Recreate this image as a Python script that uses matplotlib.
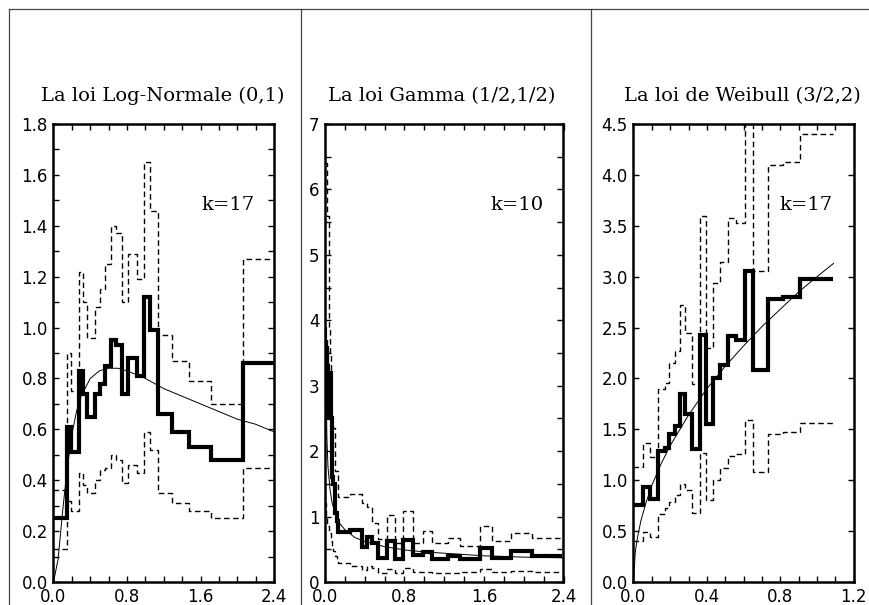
import matplotlib
matplotlib.use("Agg")
import matplotlib.pyplot as plt
from matplotlib.lines import Line2D
from matplotlib.ticker import MultipleLocator, FormatStrFormatter

# ---------------- Panel 1 : Log-Normale (0,1) ----------------
ln_edges = [0.0, 0.15, 0.19, 0.28, 0.325, 0.37, 0.45, 0.51, 0.565, 0.625, 0.675,
            0.75, 0.815, 0.905, 0.99, 1.055, 1.14, 1.29, 1.47, 1.71, 2.06, 2.4]
ln_est = [0.25, 0.61, 0.51, 0.83, 0.74, 0.65, 0.74, 0.78, 0.85, 0.95, 0.93,
          0.74, 0.88, 0.81, 1.12, 0.99, 0.66, 0.59, 0.53, 0.48, 0.86]
ln_up = [0.36, 0.90, 0.75, 1.22, 1.10, 0.96, 1.08, 1.15, 1.25, 1.40, 1.37,
         1.10, 1.29, 1.19, 1.65, 1.46, 0.97, 0.87, 0.79, 0.70, 1.27]
ln_lo = [0.13, 0.32, 0.28, 0.43, 0.38, 0.35, 0.40, 0.44, 0.45, 0.50, 0.48,
         0.39, 0.46, 0.43, 0.59, 0.52, 0.35, 0.31, 0.28, 0.25, 0.45]
ln_cx = [0.0, 0.05, 0.1, 0.15, 0.2, 0.25, 0.3, 0.4, 0.5, 0.6, 0.7, 0.8, 1.0,
         1.2, 1.4, 1.6, 1.8, 2.0, 2.2, 2.4]
ln_cy = [0.0, 0.09, 0.28, 0.45, 0.58, 0.67, 0.73, 0.80, 0.83, 0.84, 0.84, 0.83,
         0.80, 0.76, 0.73, 0.70, 0.67, 0.64, 0.62, 0.59]

# ---------------- Panel 2 : Gamma (1/2,1/2) ----------------
ga_edges = [0.0, 0.004, 0.008, 0.012, 0.016, 0.02, 0.025, 0.03, 0.036, 0.042,
            0.05, 0.06, 0.072, 0.084, 0.1, 0.117, 0.134, 0.25, 0.369, 0.419,
            0.476, 0.537, 0.62, 0.704, 0.788, 0.889, 0.989, 1.073, 1.241,
            1.358, 1.559, 1.677, 1.871, 2.086, 2.381]
ga_est = [3.9, 2.9, 3.7, 3.0, 3.6, 2.8, 3.3, 2.6, 3.0, 2.5, 3.2, 2.5, 1.6, 1.5,
          1.05, 0.93, 0.76, 0.79, 0.54, 0.69, 0.59, 0.36, 0.63, 0.35, 0.64,
          0.41, 0.46, 0.35, 0.40, 0.35, 0.515, 0.37, 0.47, 0.40]
ga_up = [6.4, 6.4, 6.4, 6.4, 5.6, 5.6, 5.6, 5.6, 4.0, 3.85, 3.5, 2.4, 2.4, 2.35,
         1.7, 1.7, 1.3, 1.35, 1.2, 1.15, 0.9, 0.65, 1.03, 0.6, 1.08, 0.6, 0.78,
         0.6, 0.68, 0.55, 0.86, 0.63, 0.75, 0.67]
ga_lo = [1.5, 1.2, 1.0, 1.0, 1.0, 0.95, 0.9, 0.85, 0.8, 0.78, 0.75, 0.62, 0.52,
         0.47, 0.40, 0.35, 0.29, 0.24, 0.18, 0.24, 0.22, 0.13, 0.20, 0.14, 0.21,
         0.15, 0.16, 0.14, 0.14, 0.15, 0.20, 0.15, 0.17, 0.16]
ga_cx = [0.008, 0.02, 0.03, 0.05, 0.07, 0.1, 0.15, 0.2, 0.3, 0.4, 0.6, 0.8, 1.0,
         1.2, 1.4, 1.6, 1.8, 2.0, 2.2, 2.4]
ga_cy = [3.3, 2.16, 1.76, 1.42, 1.22, 1.06, 0.89, 0.80, 0.68, 0.62, 0.54, 0.49,
         0.46, 0.44, 0.42, 0.40, 0.39, 0.38, 0.375, 0.37]

# ---------------- Panel 3 : Weibull (3/2,2) ----------------
wb_edges = [0.0, 0.05, 0.09, 0.135, 0.172, 0.195, 0.226, 0.253, 0.28, 0.317,
            0.362, 0.395, 0.435, 0.471, 0.517, 0.558, 0.607, 0.649, 0.734,
            0.816, 0.909, 1.088]
wb_est = [0.76, 0.93, 0.82, 1.29, 1.32, 1.45, 1.53, 1.85, 1.65, 1.31, 2.43,
          1.55, 2.0, 2.13, 2.42, 2.38, 3.06, 2.08, 2.78, 2.80, 2.98]
wb_up = [1.13, 1.37, 1.23, 1.90, 1.96, 2.15, 2.27, 2.72, 2.45, 1.95, 3.60,
         2.30, 2.94, 3.14, 3.58, 3.53, 4.80, 3.06, 4.10, 4.13, 4.40]
wb_lo = [0.40, 0.49, 0.44, 0.67, 0.73, 0.79, 0.85, 0.96, 0.90, 0.68, 1.27,
         0.81, 1.00, 1.12, 1.24, 1.26, 1.59, 1.08, 1.45, 1.47, 1.56]
wb_cx = [0.0, 0.01, 0.02, 0.04, 0.07, 0.1, 0.15, 0.2, 0.3, 0.4, 0.5, 0.6, 0.7,
         0.8, 0.9, 1.0, 1.09]
wb_cy = [0.0, 0.30, 0.42, 0.60, 0.79, 0.95, 1.16, 1.34, 1.64, 1.90, 2.12, 2.32,
         2.51, 2.68, 2.85, 3.00, 3.13]

titles = ["La loi Log-Normale (0,1)", "La loi Gamma (1/2,1/2)",
          "La loi de Weibull (3/2,2)"]
k_labels = ["k=17", "k=10", "k=17"]

W, H = 870, 605
fig = plt.figure(figsize=(W / 100, H / 100), dpi=100)

# frame lines of the original figure
line_kw = dict(color="#444444", lw=0.9, transform=fig.transFigure)
fig.add_artist(Line2D([9 / W, 1], [1 - 9 / H, 1 - 9 / H], **line_kw))
for xp in (9, 301, 591):
    fig.add_artist(Line2D([xp / W, xp / W], [0, 1 - 9 / H], **line_kw))

panels = [
    dict(rect=(53.5, 220.5), edges=ln_edges, est=ln_est, up=ln_up, lo=ln_lo,
         cx=ln_cx, cy=ln_cy, xlim=(0, 2.4), ylim=(0, 1.8), xmaj=0.8, xmin=0.2,
         ymaj=0.2, ymin=0.1, yfmt="%.1f", title_c=163, kx=0.673),
    dict(rect=(325, 238.5), edges=ga_edges, est=ga_est, up=ga_up, lo=ga_lo,
         cx=ga_cx, cy=ga_cy, xlim=(0, 2.4), ylim=(0, 7), xmaj=0.8, xmin=0.2,
         ymaj=1, ymin=0.5, yfmt="%d", title_c=442, kx=0.692),
    dict(rect=(633.5, 220.2), edges=wb_edges, est=wb_est, up=wb_up, lo=wb_lo,
         cx=wb_cx, cy=wb_cy, xlim=(0, 1.2), ylim=(0, 4.5), xmaj=0.4, xmin=0.1,
         ymaj=0.5, ymin=0.5, yfmt="%.1f", title_c=742, kx=0.665),
]

dash = (0, (4, 2.5))
ax_top, ax_bot = 124, 582
for i, p in enumerate(panels):
    left, width = p["rect"]
    ax = fig.add_axes([left / W, 1 - ax_bot / H, width / W, (ax_bot - ax_top) / H])
    ax.stairs(p["up"], p["edges"], baseline=None, color="black", lw=1.0,
              linestyle=dash)
    ax.stairs(p["lo"], p["edges"], baseline=None, color="black", lw=1.0,
              linestyle=dash)
    ax.plot(p["cx"], p["cy"], color="black", lw=0.7)
    sp = ax.stairs(p["est"], p["edges"], baseline=None, color="black", lw=3.0)
    sp.set_joinstyle("miter")
    ax.set_xlim(*p["xlim"])
    ax.set_ylim(*p["ylim"])
    ax.xaxis.set_major_locator(MultipleLocator(p["xmaj"]))
    ax.xaxis.set_minor_locator(MultipleLocator(p["xmin"]))
    ax.yaxis.set_major_locator(MultipleLocator(p["ymaj"]))
    ax.yaxis.set_minor_locator(MultipleLocator(p["ymin"]))
    ax.xaxis.set_major_formatter(FormatStrFormatter("%.1f"))
    ax.yaxis.set_major_formatter(FormatStrFormatter(p["yfmt"]))
    ax.tick_params(which="both", direction="in", top=True, right=True,
                   length=4, width=1.0, labelsize=12)
    ax.tick_params(axis="x", which="major", pad=4)
    ax.tick_params(axis="y", which="major", pad=4)
    for s in ax.spines.values():
        s.set_linewidth(1.8)
    for lab in ax.get_xticklabels() + ax.get_yticklabels():
        lab.set_fontfamily("DejaVu Sans")
    ax.text(p["kx"], 0.812, k_labels[i], transform=ax.transAxes,
            fontsize=14, family="DejaVu Serif", va="baseline", ha="left")
    fig.text(p["title_c"] / W, 1 - 101 / H, titles[i], fontsize=14,
             family="DejaVu Serif", va="baseline", ha="center")

fig.savefig("out.png", dpi=100)
